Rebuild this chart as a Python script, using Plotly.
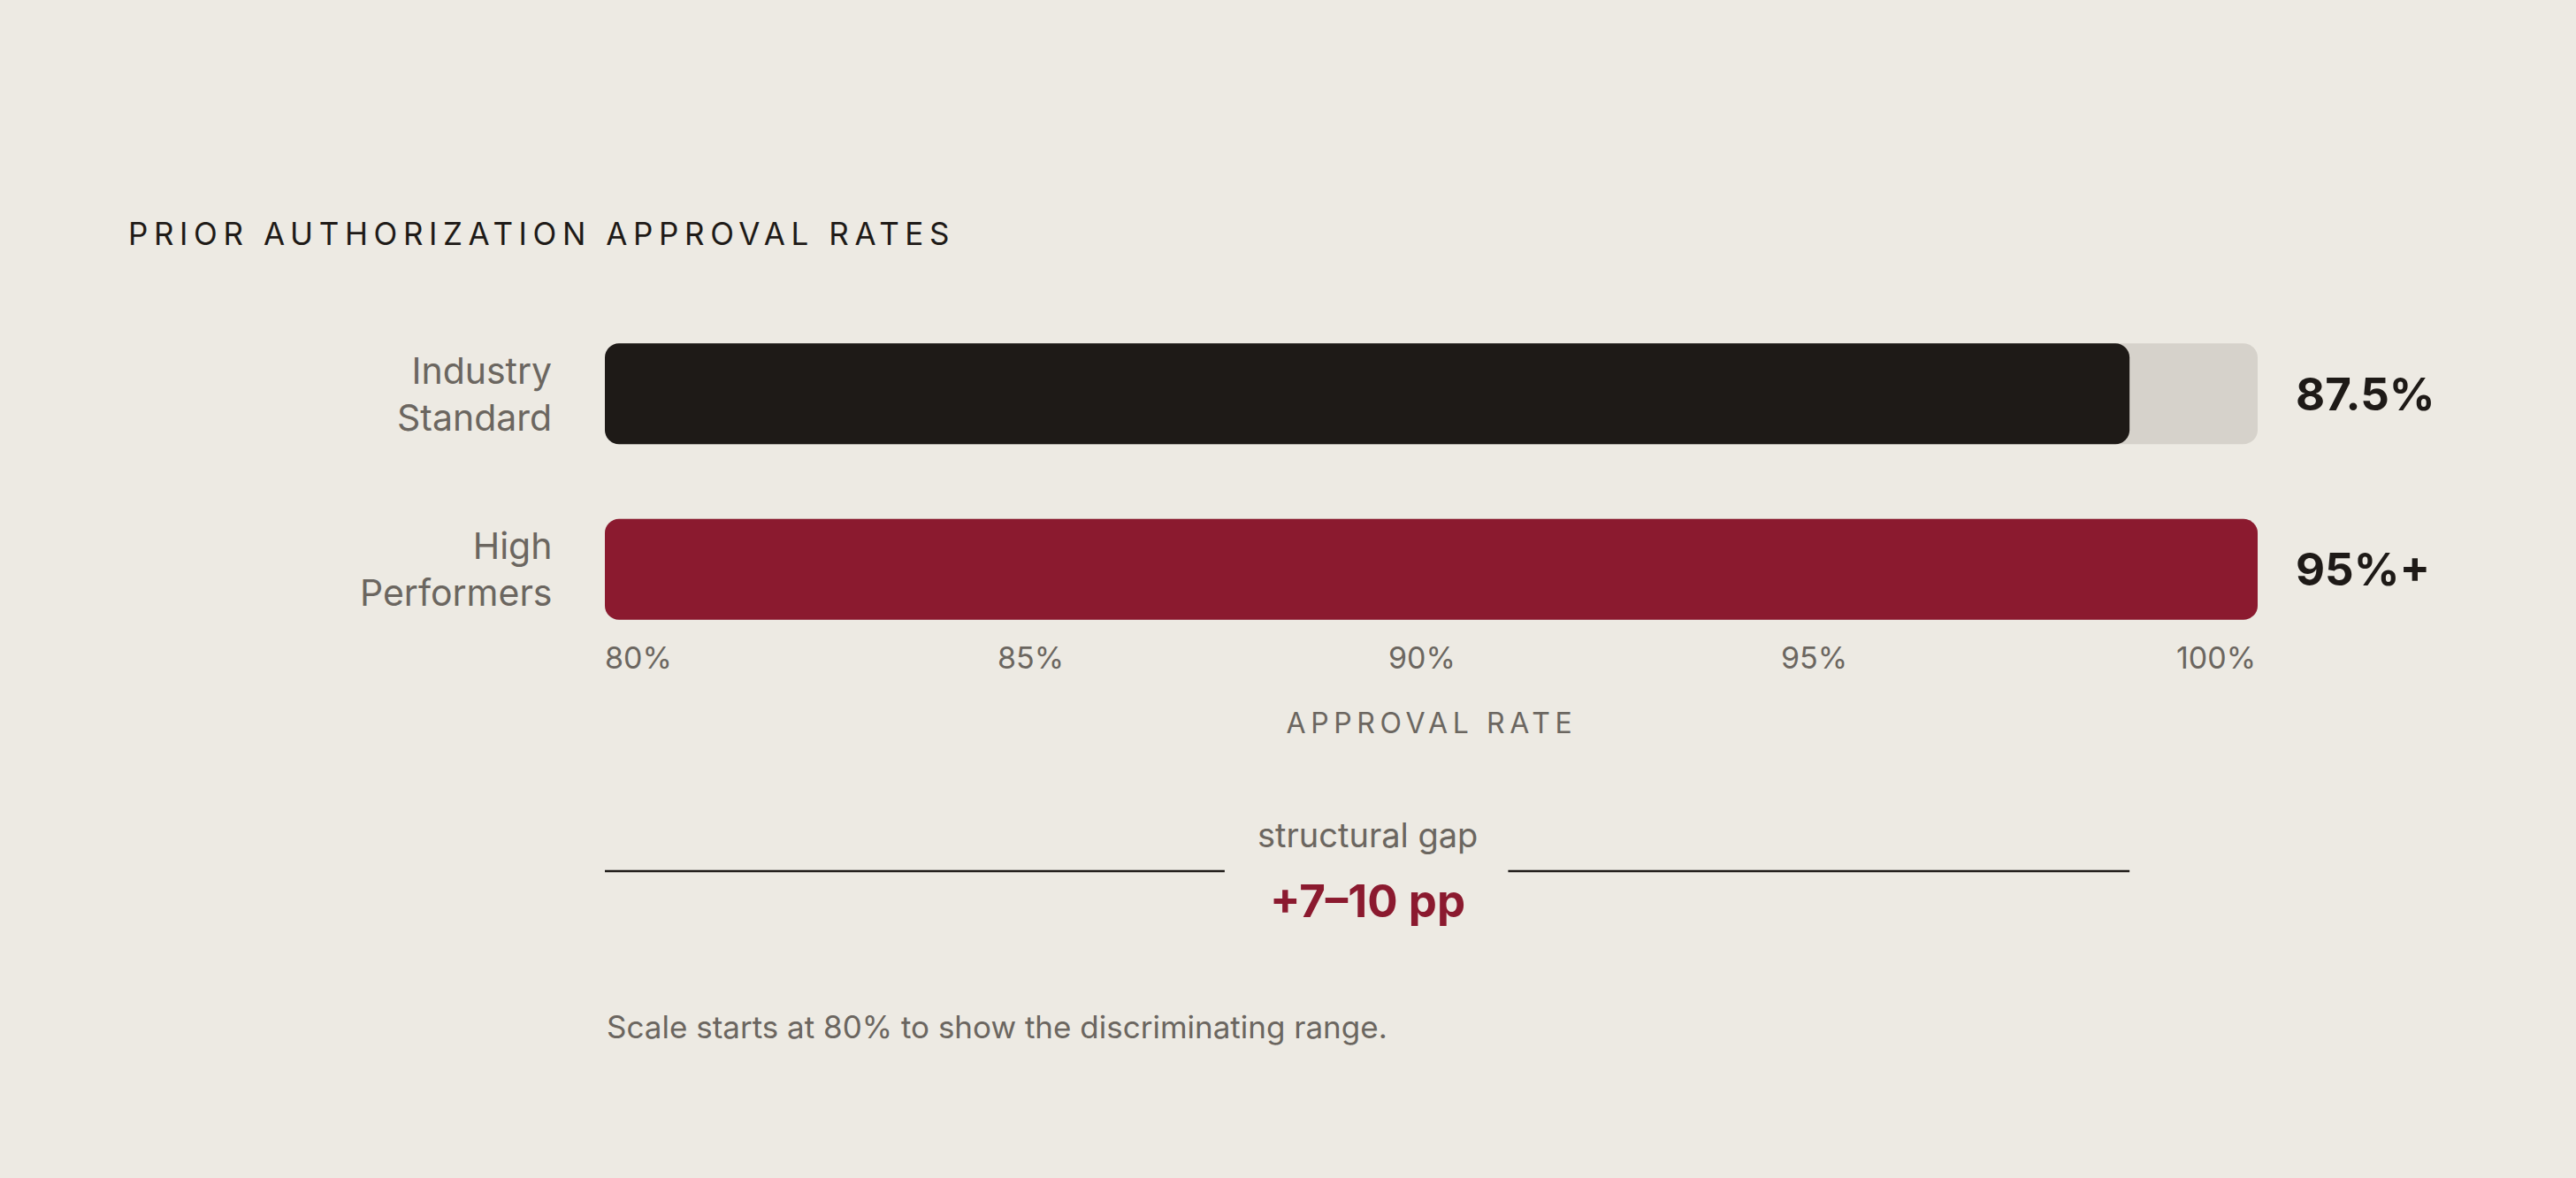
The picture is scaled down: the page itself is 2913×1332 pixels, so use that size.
import plotly.graph_objects as go

# ---- data ----
categories = ["Industry Standard", "High Performers"]
category_labels = ["Industry<br>Standard", "High<br>Performers"]
bar_ends = [98.45, 100.0]          # bar extents as drawn on the 80–100 scale
value_labels = ["87.5%", "95%+"]
bar_colors = ["#1E1A17", "#8B1A2F"]
scale_min, scale_max = 80, 100
tick_values = [80, 85, 90, 95, 100]
tick_labels = ["80%", "85%", "90%", "95%", "100%"]
gap_segments = [(80, 87.5), (90.93, 98.45)]
gap_caption = "structural gap"
gap_value = "+7–10 pp"
title_text = "PRIOR AUTHORIZATION APPROVAL RATES"
axis_title = "APPROVAL RATE"
footnote = "Scale starts at 80% to show the discriminating range."

BG = "#EDEAE3"
TRACK = "#D6D2CB"
INK = "#1E1A17"
GRAY = "#6B6660"
RED = "#8B1A2F"
FONT = "Inter"
BAR_W = 0.574

fig = go.Figure()

# background tracks
fig.add_trace(go.Bar(
    y=categories, x=[scale_max - scale_min] * len(categories),
    base=[scale_min] * len(categories), orientation="h", width=BAR_W,
    marker=dict(color=TRACK, line=dict(width=0)),
    hoverinfo="skip", showlegend=False, name="track"))

# value bars
fig.add_trace(go.Bar(
    y=categories, x=[e - scale_min for e in bar_ends],
    base=[scale_min] * len(categories), orientation="h", width=BAR_W,
    marker=dict(color=bar_colors, line=dict(width=0)),
    hoverinfo="skip", showlegend=False, name="approval"))

annotations = []

# category labels
for cat, lab in zip(categories, category_labels):
    annotations.append(dict(
        x=0, xref="paper", y=cat, yref="y", text=lab, showarrow=False,
        xanchor="right", yanchor="middle", align="right", xshift=-58,
        font=dict(family=FONT, size=41, color=GRAY)))

# value labels
for cat, lab in zip(categories, value_labels):
    annotations.append(dict(
        x=scale_max, xref="x", y=cat, yref="y", text=lab, showarrow=False,
        xanchor="left", yanchor="middle", xshift=41,
        font=dict(family=FONT, size=51, color=INK, weight=700)))

# tick labels, spread edge-to-edge with equal gaps (space-between layout)
char_w = 0.26                                   # approx label char width, axis units
widths = [len(t) * char_w for t in tick_labels]
gap = (scale_max - scale_min - sum(widths)) / (len(tick_labels) - 1)
pos = scale_min
for tl, w in zip(tick_labels, widths):
    annotations.append(dict(
        x=pos + w / 2, xref="x", y=0, yref="paper", text=tl, showarrow=False,
        xanchor="center", yanchor="middle", xshift=2,
        font=dict(family=FONT, size=34, color=GRAY)))
    pos += w + gap

# axis title (letter-spaced via post script)
annotations.append(dict(
    x=0.5, xref="paper", y=0, yref="paper", text=axis_title, showarrow=False,
    xanchor="center", yanchor="middle", yshift=-74,
    font=dict(family=FONT, size=32, color=GRAY)))

# gap caption & value
gap_center = (gap_segments[0][0] + gap_segments[1][1]) / 2
annotations.append(dict(
    x=gap_center, xref="x", y=0, yref="paper", text=gap_caption, showarrow=False,
    xanchor="center", yanchor="middle", yshift=-201,
    font=dict(family=FONT, size=38, color=GRAY)))
annotations.append(dict(
    x=gap_center, xref="x", y=0, yref="paper", text=gap_value, showarrow=False,
    xanchor="center", yanchor="middle", yshift=-275,
    font=dict(family=FONT, size=51, color=RED, weight=700)))

# footnote
annotations.append(dict(
    x=scale_min, xref="x", y=0, yref="paper", text=footnote, showarrow=False,
    xanchor="left", yanchor="middle", align="left", yshift=-418,
    font=dict(family=FONT, size=35, color=GRAY)))

# title (letter-spaced via post script)
annotations.append(dict(
    x=0, xref="paper", y=1, yref="paper", text=title_text, showarrow=False,
    xanchor="left", yanchor="middle", align="left", xshift=-541, yshift=82,
    font=dict(family=FONT, size=35, color=INK)))

shapes = []
for x0, x1 in gap_segments:
    shapes.append(dict(
        type="line", xref="x", yref="paper", ysizemode="pixel", yanchor=0,
        x0=x0, x1=x1, y0=-242, y1=-242,
        line=dict(color=INK, width=2.7)))

fig.update_layout(
    width=2913, height=1332,
    margin=dict(l=684, r=360, t=346, b=589, pad=0),
    paper_bgcolor=BG, plot_bgcolor=BG,
    barmode="overlay", barcornerradius=16,
    xaxis=dict(range=[scale_min, scale_max], showgrid=False, zeroline=False,
               showticklabels=False, showline=False, ticks=""),
    yaxis=dict(type="category", categoryorder="array", categoryarray=categories,
               autorange="reversed", showgrid=False, zeroline=False,
               showticklabels=False, showline=False, ticks=""),
    annotations=annotations, shapes=shapes,
    showlegend=False,
)

post = """
document.documentElement.style.margin='0';
document.body.style.margin='0';
document.body.style.overflow='hidden';
document.body.style.background='%s';
(function(){
  var spacing = {'%s': '6.6px', '%s': '5.6px'};
  document.querySelectorAll('.annotation-text').forEach(function(t){
    var s = spacing[t.textContent];
    if (s) { t.style.letterSpacing = s; }
  });
})();
""" % (BG, title_text, axis_title)

fig.write_html("out.html", post_script=post, config={"displayModeBar": False})
